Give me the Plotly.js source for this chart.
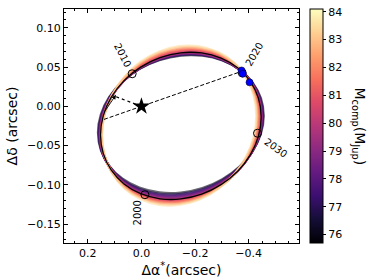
<!DOCTYPE html>
<html>
<head>
<meta charset="utf-8">
<script src="https://cdn.plot.ly/plotly-3.0.1.min.js"></script>
<style>html,body{margin:0;padding:0;background:#fff;}#plot{width:374px;height:279px;}</style>
</head>
<body>
<div id="plot"></div>
<script>
// Best-fit orbit (black) (arcsec)
const fitX = [-0.4469, -0.4367, -0.4067, -0.3591, -0.2970, -0.2247, -0.1471, -0.0695, 0.0028, 0.0649, 0.1125, 0.1425, 0.1527, 0.1425, 0.1125, 0.0649, 0.0028, -0.0695, -0.1471, -0.2247, -0.2970, -0.3591, -0.4067, -0.4367, -0.4469];
const fitY = [-0.0134, -0.0379, -0.0615, -0.0826, -0.0997, -0.1118, -0.1179, -0.1177, -0.1112, -0.0988, -0.0813, -0.0600, -0.0364, -0.0119, 0.0117, 0.0328, 0.0500, 0.0620, 0.0682, 0.0680, 0.0615, 0.0491, 0.0316, 0.0103, -0.0134];
const orbitCenter = [-0.147, -0.025];

// Sampled orbits: companion mass (M_Jup) and their shape relative to the best fit
const orbitMass   = [76.0, 76.8, 77.3, 77.8, 78.2, 78.5, 78.8, 79.1, 79.4, 79.7, 80.0, 80.3, 80.6, 80.9, 81.3, 81.7, 82.2, 82.8, 83.5];
const orbitScaleX = [1.032, 1.025, 1.021, 1.017, 1.013, 1.011, 1.008, 1.006, 1.003, 1.001, 0.998, 0.995, 0.991, 0.988, 0.984, 0.979, 0.974, 0.967, 0.960];
const orbitScaleY = [0.937, 0.950, 0.958, 0.967, 0.973, 0.978, 0.983, 0.988, 0.993, 0.998, 1.005, 1.012, 1.019, 1.026, 1.035, 1.044, 1.056, 1.070, 1.087];
const orbitShiftX = [0, 0, 0, 0, 0, 0, 0, 0, 0, 0, 0.0003, 0.0009, 0.0014, 0.0019, 0.0026, 0.0032, 0.0041, 0.0051, 0.0063];
const orbitShiftY = [0.0023, 0.0018, 0.0015, 0.0012, 0.0010, 0.0008, 0.0006, 0.0004, 0.0002, 0.0001, 0.0001, 0.0001, 0.0002, 0.0002, 0.0002, 0.0003, 0.0003, 0.0004, 0.0004];

// Epoch markers
const yearNames = ['2000', '2010', '2020', '2030'];
const yearX = [-0.013, 0.0346, -0.376, -0.4331];
const yearY = [-0.1125, 0.0415, 0.0427, -0.0342];
const yearLabelX = [0.016, 0.072, -0.421, -0.499];
const yearLabelY = [-0.1362, 0.0657, 0.0657, -0.0529];
const yearLabelAngle = [-90, 63, -60, 35];

// Observations
const obsX = [-0.3736, -0.3780, -0.4034];
const obsY = [0.0457, 0.0415, 0.0306];

// Line of nodes (dashed) and periastron (dotted)
const nodesX = [0.1397, -0.3687];
const nodesY = [-0.0166, 0.0440];
const periX = [0, 0.108];
const periY = [0, 0.014];

// Direction-of-motion arrow
const arrowHead = [0.095, 0.0147];
const arrowTail = [0.1395, -0.0077];

const massMin = 75.7, massMax = 84.1;

const magma = [[0,'#000004'],[0.1,'#140e36'],[0.2,'#3b0f70'],[0.3,'#641a80'],[0.4,'#8c2981'],[0.5,'#b73779'],[0.6,'#de4968'],[0.7,'#f7705c'],[0.8,'#fe9f6d'],[0.9,'#fecf92'],[1,'#fcfdbf']];
function hex2rgb(h){return [parseInt(h.slice(1,3),16),parseInt(h.slice(3,5),16),parseInt(h.slice(5,7),16)];}
function magmaColor(m){
  let t = (m - massMin)/(massMax - massMin);
  t = Math.max(0, Math.min(1, t));
  for (let i=0;i<magma.length-1;i++){
    const a=magma[i], b=magma[i+1];
    if (t>=a[0] && t<=b[0]){
      const f=(t-a[0])/(b[0]-a[0]);
      const ca=hex2rgb(a[1]), cb=hex2rgb(b[1]);
      return 'rgb('+ca.map((v,k)=>Math.round(v+(cb[k]-v)*f)).join(',')+')';
    }
  }
  return magma[magma.length-1][1];
}

const traces = [];
orbitMass.forEach((m,i)=>{
  traces.push({
    type:'scatter', mode:'lines', hoverinfo:'skip', showlegend:false,
    x: fitX.map(v=>orbitCenter[0]+orbitScaleX[i]*(v-orbitCenter[0])+orbitShiftX[i]),
    y: fitY.map(v=>orbitCenter[1]+orbitScaleY[i]*(v-orbitCenter[1])+orbitShiftY[i]),
    line:{color:magmaColor(m), width:2.2, shape:'spline', smoothing:1},
    opacity:0.6
  });
});
traces.push({type:'scatter', mode:'lines', x:fitX, y:fitY, hoverinfo:'skip', showlegend:false,
  line:{color:'black', width:1.3, shape:'spline', smoothing:1}});
traces.push({type:'scatter', mode:'lines', x:nodesX, y:nodesY, hoverinfo:'skip', showlegend:false,
  line:{color:'black', width:1, dash:'4px,2px'}});
traces.push({type:'scatter', mode:'lines', x:periX, y:periY, hoverinfo:'skip', showlegend:false,
  line:{color:'black', width:1.2, dash:'dot'}});
traces.push({type:'scatter', mode:'markers', x:yearX, y:yearY, hoverinfo:'skip', showlegend:false,
  marker:{symbol:'circle-open', size:8, color:'black', line:{width:1}}});
traces.push({type:'scatter', mode:'markers', x:obsX, y:obsY, hoverinfo:'skip', showlegend:false,
  marker:{symbol:'circle', size:7, color:'#0000ff', line:{width:0.6, color:'#000033'}}});
traces.push({type:'scatter', mode:'markers', x:[0], y:[0], hoverinfo:'skip', showlegend:false,
  marker:{symbol:'star', size:13, color:'black'}});
traces.push({type:'scatter', mode:'markers', x:[null], y:[null], hoverinfo:'skip', showlegend:false,
  marker:{color:[80], cmin:massMin, cmax:massMax, colorscale:magma, showscale:true,
    colorbar:{x:1.0468, xanchor:'left', y:0.5, yanchor:'middle', len:1, lenmode:'fraction',
      thickness:13, thicknessmode:'pixels', xpad:0, ypad:0, outlinewidth:1, outlinecolor:'black',
      ticks:'outside', ticklen:3, tickcolor:'black', tickvals:[76,77,78,79,80,81,82,83,84],
      tickfont:{family:'DejaVu Sans', size:11, color:'black'}}}});

const annotations = yearNames.map((t,i)=>({
  x:yearLabelX[i], y:yearLabelY[i], xref:'x', yref:'y', text:t, showarrow:false,
  textangle:yearLabelAngle[i], font:{family:'DejaVu Sans', size:10, color:'black'}
}));
annotations.push({x:arrowHead[0], y:arrowHead[1], ax:arrowTail[0], ay:arrowTail[1], xref:'x', yref:'y', axref:'x', ayref:'y',
  text:'', showarrow:true, arrowhead:2, arrowsize:1, arrowwidth:0.9, arrowcolor:'black'});
annotations.push({x:1.30, y:0.5, xref:'paper', yref:'paper', text:'M<sub>comp</sub>(M<sub>Jup</sub>)', showarrow:false,
  textangle:90, font:{family:'DejaVu Sans', size:14, color:'black'}});

const axisCommon = {showline:true, linecolor:'black', linewidth:1, mirror:'allticks', ticks:'inside', ticklen:4,
  tickcolor:'black', showgrid:false, zeroline:false, tickfont:{family:'DejaVu Sans', size:11, color:'black'}};

const layout = {
  width:374, height:279,
  margin:{l:64, r:75, t:9, b:36, pad:0},
  paper_bgcolor:'white', plot_bgcolor:'white',
  font:{family:'DejaVu Sans', color:'black'},
  showlegend:false,
  xaxis:Object.assign({}, axisCommon, {range:[0.289, -0.588], tick0:0, dtick:0.2, tickformat:'.1f',
    minor:{dtick:0.05, tick0:0, ticks:'inside', ticklen:2, tickcolor:'black', showgrid:false},
    title:{text:'Δα<sup>*</sup>(arcsec)', font:{family:'DejaVu Sans', size:14, color:'black'}, standoff:2}}),
  yaxis:Object.assign({}, axisCommon, {range:[-0.174, 0.124], tick0:0, dtick:0.05, tickformat:'.2f',
    minor:{dtick:0.01, tick0:0, ticks:'inside', ticklen:2, tickcolor:'black', showgrid:false},
    title:{text:'Δδ (arcsec)', font:{family:'DejaVu Sans', size:14, color:'black'}, standoff:6}}),
  annotations:annotations
};

Plotly.newPlot('plot', traces, layout, {staticPlot:true, displayModeBar:false});
</script>
</body>
</html>
